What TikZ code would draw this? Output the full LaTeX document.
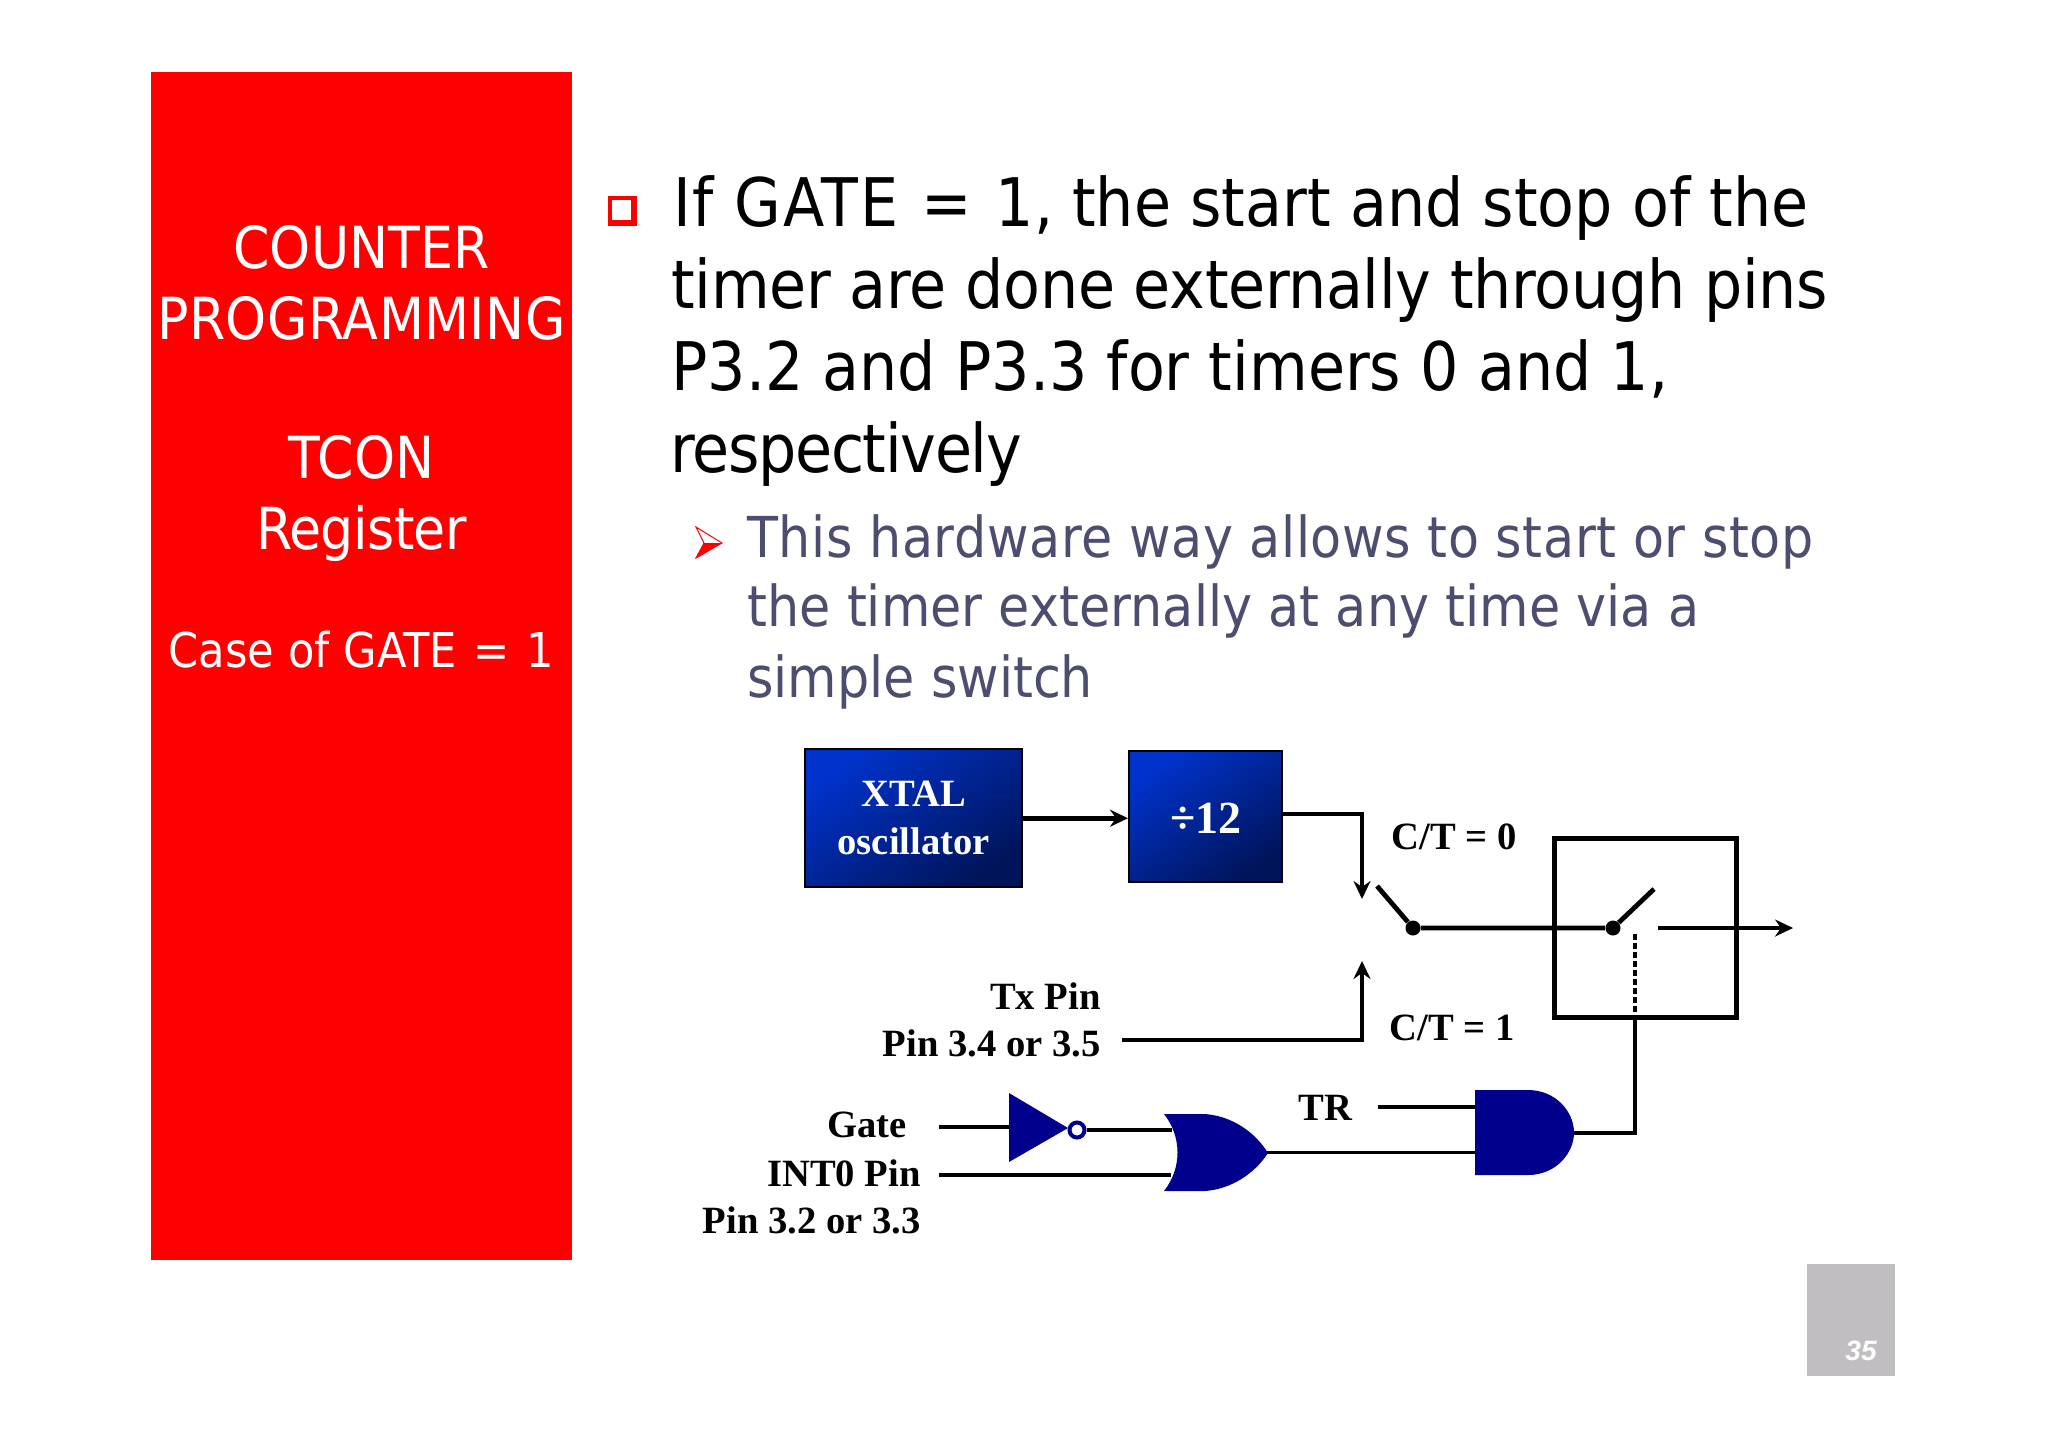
\documentclass[tikz,border=0pt]{standalone}
\usepackage{fontspec}
\usetikzlibrary{arrows.meta, calc}
\setmainfont{Liberation Serif}
\newfontfamily\slidefont[FakeStretch=0.9]{DejaVu Sans}
\newfontfamily\pagefont{Liberation Sans}
\newcommand{\spaced}[2]{{\addfontfeature{LetterSpace=#1}#2}}
\definecolor{panelred}{RGB}{255,0,0}
\definecolor{subgray}{RGB}{77,77,112}
\definecolor{gatenavy}{RGB}{0,0,140}
\definecolor{boxlight}{RGB}{0,51,204}
\definecolor{boxdark}{RGB}{0,20,90}
\definecolor{pagegray}{RGB}{192,190,193}

\tikzset{
  wire/.style={line width=2.4pt},
  head/.style={wire, -{Stealth[length=9pt,width=8.5pt,inset=3pt]}},
  blockbox/.style={draw=black, line width=1.2pt, shading=axis, left color=boxlight, right color=boxdark,
    shading angle=35, text=white, font=\fontsize{19.3}{23}\selectfont\bfseries, align=center,
    inner sep=0pt, anchor=north west, text depth=0pt},
  pinlabel/.style={font=\fontsize{19.3}{23}\selectfont\bfseries, inner sep=0pt, anchor=base east},
  sidelabel/.style={font=\slidefont\fontsize{29}{35}\selectfont, text=white, inner sep=0pt, anchor=base},
  mainline/.style={font=\slidefont\fontsize{33.5}{40}\selectfont, inner sep=0pt, anchor=base west},
  subline/.style={font=\slidefont\fontsize{28.2}{33}\selectfont, text=subgray, inner sep=0pt, anchor=base west},
  gatefill/.style={fill=gatenavy, draw=none}
}

\begin{document}
\begin{tikzpicture}[x=0.5pt, y=-0.5pt]
  \useasboundingbox (0,0) rectangle (2048,1448);
  \fill[white] (0,0) rectangle (2048,1448);

  % side panel
  \fill[panelred] (151,72) rectangle (572,1260);
  \node[sidelabel] (counter) at (361.5,268.5) {COUNTER};
  \node[sidelabel] (programming) at (361.5,339) {\spaced{0.7}{PROGRAMMING}};
  \node[sidelabel] (tcon) at (361.5,478.5) {TCON};
  \node[sidelabel] (register) at (361.5,549) {\spaced{-1}{Register}};
  \node[sidelabel, font=\slidefont\fontsize{24}{28}\selectfont] (caseof) at (361.5,667) {Case of GATE\hspace{1.5pt} = \hspace{1.5pt}1};

  % bullets
  \fill[panelred] (608,196) rectangle (637,226);
  \fill[white] (612,200) rectangle (631,220);
  \draw[panelred, line width=0.5pt, fill=white] (696,527) -- (722,543) -- (696,558) -- (704,543) -- cycle;
  \fill[panelred] (704,543) -- (722,543) -- (696,558) -- cycle;

  % text
  \node[mainline] (line1) at (673,226) {\spaced{2.5}{If GATE}\hspace{2.3pt} = \hspace{2pt}1, the start and stop of the};
  \node[mainline] (line2) at (671,308) {\spaced{-0.5}{timer are done externally through pins}};
  \node[mainline] (line3) at (671,390) {P3.2 and P3.3 for timers 0 and 1,};
  \node[mainline] (line4) at (670,472) {\spaced{-2}{respectively}};
  \node[subline] (sub1) at (747,557) {\spaced{1}{This hardware way allows to start or stop}};
  \node[subline] (sub2) at (747,626) {\spaced{0.1}{the timer externally at any time via a}};
  \node[subline] (sub3) at (747,697) {simple switch};

  % blocks
  \node[blockbox, minimum width=108.5pt, minimum height=69pt] (xtal) at (804,748) {XTAL\\[1pt]oscillator};
  \node[blockbox, minimum width=76.5pt, minimum height=65.5pt] (div) at (1128,750) {\fontsize{23}{28}\selectfont\raisebox{-1.5pt}{÷12}};

  % switch box
  \node[draw=black, wire, minimum width=91pt, minimum height=89.5pt, inner sep=0pt, anchor=north west] (hold) at (1552,836) {};

  % labels
  \node[pinlabel, anchor=base west] (ctzero) at (1391,849) {C/T = 0};
  \node[pinlabel, anchor=base west] (ctone) at (1389,1040) {C/T = 1};
  \node[pinlabel] (txpin) at (1101,1009) {Tx Pin};
  \node[pinlabel] (txnum) at (1101,1056) {Pin 3.4 or 3.5};
  \node[pinlabel, anchor=base west] (trpin) at (1298,1120) {TR};
  \node[pinlabel] (gatepin) at (907,1137) {Gate};
  \node[pinlabel] (intpin) at (921,1186) {INT0 Pin};
  \node[pinlabel] (intnum) at (921,1233) {Pin 3.2 or 3.3};

  % gates
  \fill[gatefill] (1164,1114) -- (1205,1114) .. controls (1232,1116) and (1255,1132) .. (1268,1153)
    .. controls (1255,1173) and (1232,1189) .. (1205,1191) -- (1164,1191)
    .. controls (1182,1168) and (1182,1137) .. (1164,1114) -- cycle;
  \fill[gatefill] (1475,1090) -- (1528,1090) .. controls (1556,1090) and (1574,1112) .. (1574,1132.5)
    .. controls (1574,1153) and (1556,1175) .. (1528,1175) -- (1475,1175) -- cycle;
  \fill[gatefill] (1009,1093) -- (1068,1128) -- (1009,1162) -- cycle;
  \node[circle, draw=gatenavy, fill=white, line width=2pt, minimum size=7.5pt, inner sep=0pt] (notout) at (1077,1130) {};

  \coordinate (orin1) at (1172,1130);
  \coordinate (orin2) at (1171,1175);
  \coordinate (orout) at (1267,1152.5);
  \coordinate (andin1) at (1475,1107);
  \coordinate (andin2) at (1475,1152.5);
  \coordinate (andout) at (1574,1133);
  \coordinate (notin) at (1009,1127);
  \coordinate (gatefree) at (939,1127);
  \coordinate (intfree) at (939,1175);
  \coordinate (trfree) at (1378,1107);
  \coordinate (txfree) at (1122,1040);
  \coordinate (txbend) at (1362,1040);
  \coordinate (txend) at (1362,961);
  \coordinate (divbend) at (1362,814);
  \coordinate (divend) at (1362,899);
  \coordinate (armA) at (1377,886);
  \coordinate (armB) at (1654,889);
  \coordinate (resume) at (1658,928);
  \coordinate (outend) at (1793,928);
  \coordinate (dashtop) at (1635,934);
  \coordinate (holdlow) at (1635,1016);
  \coordinate (andbend) at (1635,1133);

  % switch dots
  \node[circle, fill=black, minimum size=7.5pt, inner sep=0pt] (dotA) at (1413,928) {};
  \node[circle, fill=black, minimum size=7.5pt, inner sep=0pt] (dotB) at (1613,928) {};

  % connectors
  \path[head]
    (xtal.east) edge (div.west |- xtal.east)
    (resume) edge (outend)
    ;
  \draw[head] (div.east |- divbend) -- (divbend) -- (divend);
  \draw[head] (txfree) -- (txbend) -- (txend);
  \draw[wire] (armA) -- (dotA) -- (dotB) -- (armB);
  \draw[line width=1.8pt, dash pattern=on 3pt off 1.5pt] (dashtop) -- (holdlow);
  \draw[line width=1.8pt] (holdlow) -- (andbend) -- (andout);
  \draw[wire] (gatefree) -- (notin);
  \draw[wire] (notout.east) -- (orin1);
  \draw[wire] (intfree) -- (orin2);
  \draw[line width=1.8pt] (orout) -- (andin2);
  \draw[wire] (trfree) -- (andin1);

  % page number
  \fill[pagegray] (1807,1264) rectangle (1895,1376);
  \node[font=\pagefont\fontsize{14}{17}\selectfont\bfseries\itshape, text=white, inner sep=0pt, anchor=base east] (pageno) at (1877,1360) {35};
\end{tikzpicture}
\end{document}
